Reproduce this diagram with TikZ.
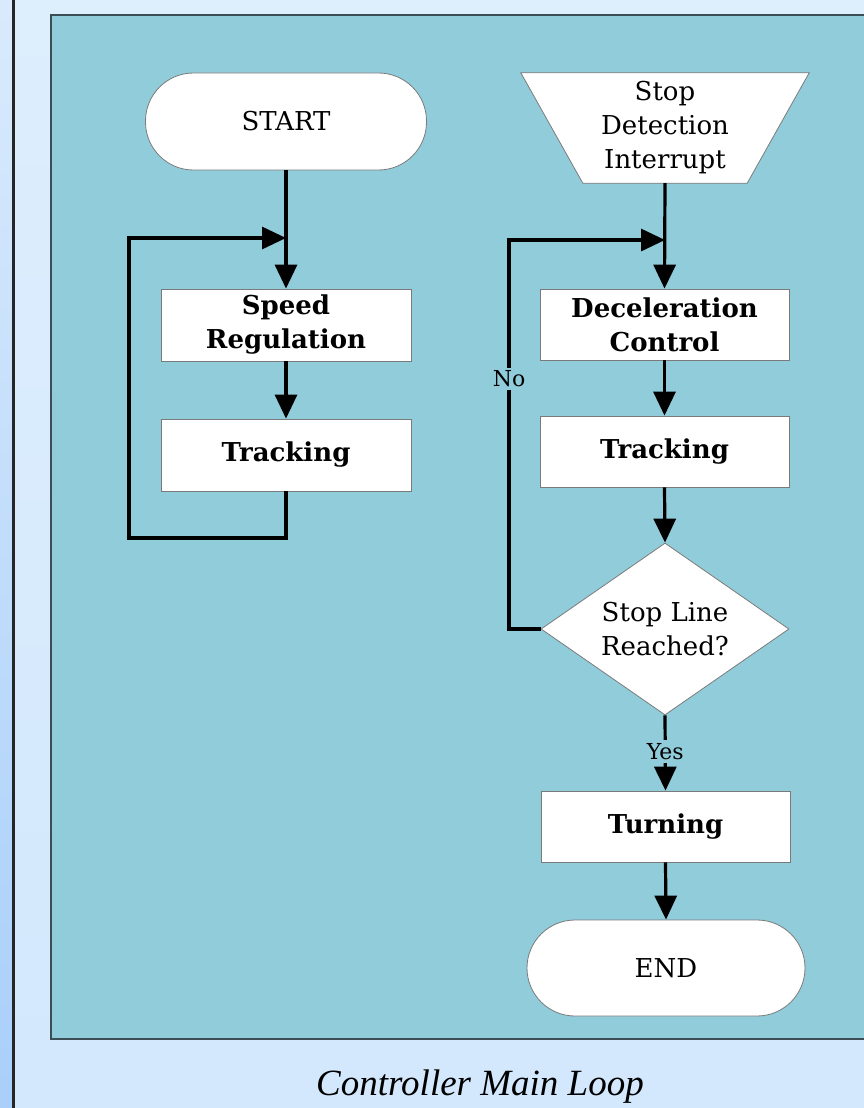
\documentclass[tikz,border=0pt]{standalone}
\usepackage{fontspec}
\setmainfont{DejaVu Serif}
\newfontfamily\capfont{Liberation Serif}
\usetikzlibrary{shapes.geometric,arrows.meta}
\definecolor{panel}{HTML}{91CCDB}
\definecolor{panelborder}{HTML}{3D4D55}
\definecolor{bgtop}{HTML}{DDEEFD}
\definecolor{bgbot}{HTML}{D3E8FD}
\definecolor{striptop}{HTML}{D9EAFC}
\definecolor{stripbot}{HTML}{A9CFFA}
\definecolor{boxline}{HTML}{7A7A7A}
\begin{document}
\begin{tikzpicture}[x=1pt,y=-1pt,
  txt/.style={font=\fontsize{26}{34}\selectfont, align=center},
  procbox/.style={txt, font=\fontsize{26}{34}\selectfont\bfseries, draw=boxline, line width=0.8pt, fill=white, minimum width=250pt, minimum height=72pt, inner sep=0pt},
  termbox/.style={txt, draw=boxline, line width=0.8pt, fill=white, rounded corners=48pt, inner sep=0pt},
  flow/.style={line width=3.2pt, -{Triangle[length=24pt,width=22pt]}},
  lbl/.style={font=\fontsize{22}{26}\selectfont, fill=panel, inner sep=3pt}
]
\useasboundingbox (0,0) rectangle (864,1108);
% background
\shade[top color=striptop, bottom color=stripbot] (0,0) rectangle (13,1108);
\shade[top color=bgtop, bottom color=bgbot] (14,0) rectangle (864,1108);
\draw[line width=2.5pt, black!85] (13.5,0) -- (13.5,1108);
\draw[panelborder, fill=panel, line width=1.4pt] (51,15) rectangle (875,1039);

% left column
\node[termbox, minimum width=281pt, minimum height=97pt] (start) at (286,121.5) {START};
\node[procbox] (speed) at (286,325) {Speed\\Regulation};
\node[procbox] (track1) at (286,455) {Tracking};
\coordinate (L1) at (129,538);
\coordinate (L2) at (129,238);
\coordinate (J1) at (286,238);

\draw[flow] (start.south) -- (speed.north);
\draw[flow] (speed.south) -- (track1.north);
\draw[flow] (track1.south) |- (L1) -- (L2) -- (J1);

% right column
\node[txt, minimum width=164pt, minimum height=110pt, inner sep=0pt] (sdi) at (665,128) {};
\draw[boxline, line width=0.8pt, fill=white]
  ([xshift=-62pt]sdi.north west) -- ([xshift=62pt]sdi.north east) -- (sdi.south east) -- (sdi.south west) -- cycle;
\node[txt] at (sdi.center) {Stop\\Detection\\Interrupt};

\node[procbox, minimum width=249pt, minimum height=71pt] (decel) at (664.5,324.5) {Deceleration\\Control};
\node[procbox, minimum width=249pt, minimum height=71pt] (track2) at (664.5,451.5) {Tracking};
\node[txt, diamond, aspect=1.44, draw=boxline, line width=0.8pt, fill=white, minimum width=248pt, minimum height=172pt, inner sep=0pt] (dia) at (665,629) {Stop Line\\Reached?};
\node[procbox, minimum width=249pt, minimum height=71pt] (turn) at (665.5,826.5) {Turning};
\node[termbox, minimum width=278pt, minimum height=96pt] (end) at (666,968) {END};
\coordinate (R1) at (509,629);
\coordinate (R2) at (509,240);
\coordinate (J2) at (665,240);

\draw[flow] (sdi.south) -- (decel.north);
\draw[flow] (decel.south) -- (track2.north);
\draw[flow] (track2.south) -- (dia.north);
\draw[flow] (dia.west) -- (R1) -- (R2) -- (J2);
\node[lbl] (no) at (509,379) {No};
\draw[flow] (dia.south) -- node[lbl, pos=0.48] (yes) {Yes} (turn.north);
\draw[flow] (turn.south) -- (end.north);

% caption
\node[font=\capfont\itshape\fontsize{37}{42}\selectfont] (cap) at (480,1087) {Controller Main Loop};
\end{tikzpicture}
\end{document}
